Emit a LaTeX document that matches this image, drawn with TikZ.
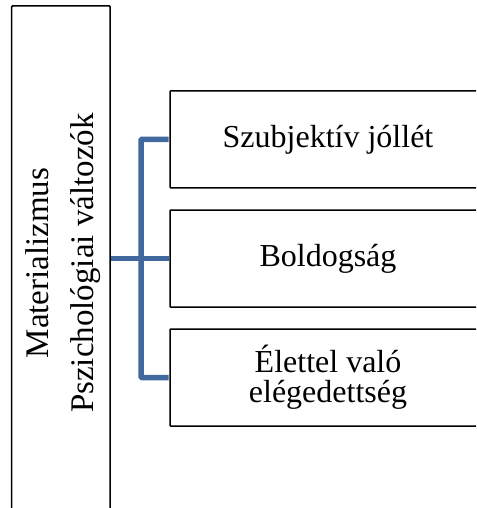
\documentclass[tikz,border=0pt]{standalone}
\usepackage{fontspec}
\setmainfont{Liberation Serif}
\definecolor{linkblue}{RGB}{65,105,160}
\begin{document}
\begin{tikzpicture}[x=1pt,y=-1pt,
  box/.style={draw=black,line width=1.5pt,rounded corners=0.8pt,inner sep=0pt},
  item/.style={box,minimum width=316pt,minimum height=97pt,
    font=\fontsize{32}{30}\selectfont,align=center},
  link/.style={draw=linkblue,line width=5.5pt,rounded corners=1pt}]
\useasboundingbox (0,0) rectangle (476,508);
\clip (0,0) rectangle (476,508);

% tall root box on the left, with its rotated two-line caption
\node[box,minimum width=98.3pt,minimum height=514pt] (root) at (60.85,263) {};
\node[rotate=90,inner sep=0pt,font=\fontsize{33}{45}\selectfont,align=center]
  (rootlabel) at (62.85,263) {Materializmus\\Pszichológiai változók};

% the three outcome boxes
\node[item] (b1) at (328,139.3) {Szubjektív jóllét};
\node[item] (b2) at (328,258.5) {Boldogság};
\node[item] (b3) at (328,377.5) {Élettel való\\elégedettség};

% bracket connector: spine with branches to each box
\coordinate (spine) at (141,258.5);
\draw[link,shorten >=0.75pt] (root.east |- b2.west) -- (b2.west);
\draw[link,shorten <=0.75pt,shorten >=0.75pt]
  (b1.west) -- (b1.west -| spine) -- (b3.west -| spine) -- (b3.west);
\end{tikzpicture}
\end{document}
